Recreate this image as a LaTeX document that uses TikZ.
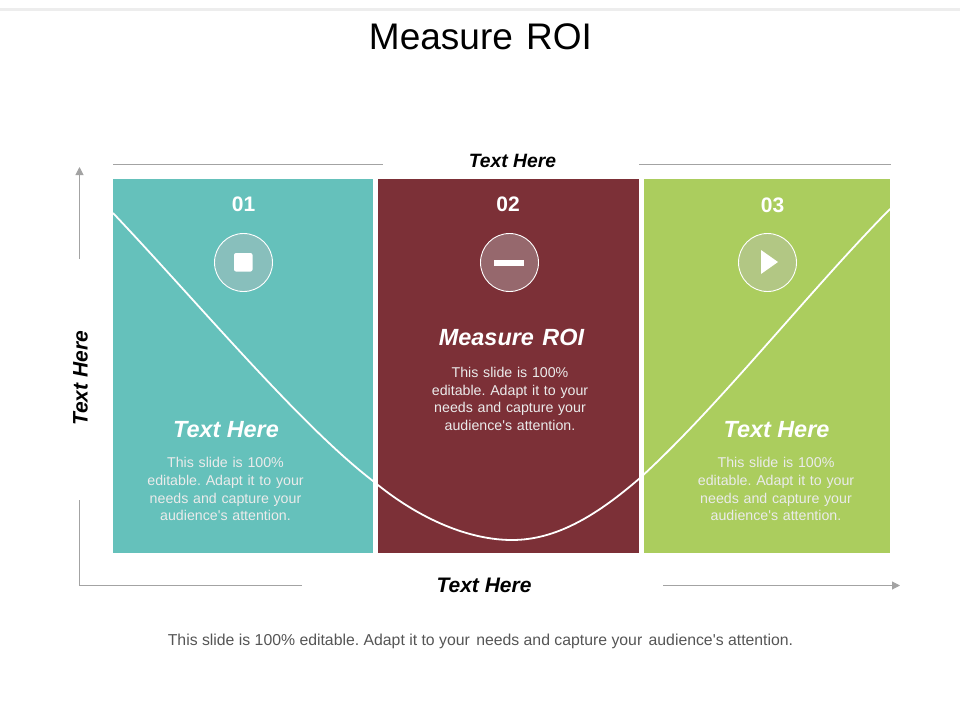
\documentclass[tikz,border=0pt]{standalone}
\usepackage{fontspec}
\setmainfont{Liberation Sans}
\usetikzlibrary{arrows.meta}
\definecolor{teal1}{HTML}{65C1BB}
\definecolor{wine}{HTML}{7C3037}
\definecolor{lime}{HTML}{ABCD5E}
\definecolor{axisgray}{HTML}{A3A3A3}
\definecolor{txtgray}{HTML}{555555}
\definecolor{ringfill}{RGB}{190,190,190}
\tikzset{
 panel/.style={draw=none,minimum height=374pt,inner sep=0pt,outer sep=0pt,anchor=north west},
 num/.style={text=white,font=\fontsize{21}{23}\selectfont\bfseries},
 ringfillst/.style={circle,fill=ringfill,fill opacity=0.4,minimum size=58pt,inner sep=0pt},
 ring/.style={circle,draw=white,line width=0.9pt,minimum size=58pt,inner sep=0pt},
 head/.style={text=white,font=\fontsize{23.4}{26}\selectfont\bfseries\itshape},
 body/.style={text=white!92!black,font=\fontsize{14.2}{17.6}\selectfont,align=center,text width=175pt,inner sep=0pt},
 lab/.style={text=black,font=\fontsize{19.3}{22}\selectfont\bfseries\itshape,inner sep=0pt},
 labbig/.style={text=black,font=\fontsize{21}{24}\selectfont\bfseries\itshape,inner sep=0pt},
 axis/.style={draw=axisgray,line width=1pt},
 axisarrow/.style={axis,-{Triangle[length=8pt,width=8pt]}},
 curveline/.style={draw=white,line width=1.8pt}
}
\begin{document}
\frenchspacing
\begin{tikzpicture}[x=1pt,y=-1pt]
\useasboundingbox (0,0) rectangle (960,720);
\fill[black!7] (0,8) rectangle (960,11);
\node[font=\fontsize{37}{42}\selectfont,text=black,inner sep=0pt] (title) at (480.5,37) {Measure\hspace{3pt} ROI};

\node[panel,fill=teal1,minimum width=260pt] (p1) at (113,179) {};
\node[panel,fill=wine,minimum width=261pt] (p2) at (378,179) {};
\node[panel,fill=lime,minimum width=246pt] (p3) at (644,179) {};

\coordinate (c0) at (113,213);
\coordinate (c1) at (373,481);
\coordinate (c2) at (512,540);
\coordinate (c3) at (640,478);
\coordinate (c4) at (890,209);
\draw[curveline] (c0) .. controls (200,305) and (300,425) .. (c1)
  .. controls (420,520) and (470,540) .. (c2)
  .. controls (555,540) and (595,517) .. (c3)
  .. controls (720,405) and (810,290) .. (c4);

\node[num] (n1) at (243.5,204) {01};
\node[num] (n2) at (508,204) {02};
\node[num] (n3) at (772.5,205) {03};

\node[ringfillst] at (243.5,262.5) {};
\node[ringfillst] at (509.5,262.5) {};
\node[ringfillst] at (767.5,262.5) {};
\node[ring] (r1) at (243.5,262.5) {};
\node[ring] (r2) at (509.5,262.5) {};
\node[ring] (r3) at (767.5,262.5) {};
\fill[white,rounded corners=2pt] (234,253) rectangle (252.5,271.5);
\fill[white] (494,259.5) rectangle (523.5,265.5);
\fill[white] (761,250) -- (778,262) -- (761,274) -- cycle;

\node[head] (h1) at (226,430) {Text Here};
\node[head] (h2) at (511.5,337) {Measure\hspace{2pt} ROI};
\node[head] (h3) at (776.5,430) {Text Here};

\node[body,anchor=north] (b1) at (225.5,457.5) {This slide is 100\%\\editable. Adapt it to your\\needs and capture your\\audience\textquotesingle s attention.};
\node[body,anchor=north] (b2) at (510,367) {This slide is 100\%\\editable. Adapt it to your\\needs and capture your\\audience\textquotesingle s attention.};
\node[body,anchor=north] (b3) at (776,457.5) {This slide is 100\%\\editable. Adapt it to your\\needs and capture your\\audience\textquotesingle s attention.};

\node[lab] (top) at (512.5,161) {Text Here};
\node[labbig] (bot) at (484,585) {Text Here};
\node[labbig,rotate=90] (left) at (80.5,378.5) {Text Here};

\coordinate (tl1) at (113,164.5);
\coordinate (tl2) at (383,164.5);
\coordinate (tr1) at (639,164.5);
\coordinate (tr2) at (891,164.5);
\draw[axis] (tl1) -- (tl2);
\draw[axis] (tr1) -- (tr2);

\coordinate (au) at (79.5,167);
\coordinate (al) at (79.5,259);
\coordinate (as) at (79.5,500);
\coordinate (ac) at (79.5,585.5);
\coordinate (ae) at (302,585.5);
\coordinate (bs) at (663,585.5);
\coordinate (be) at (900,585.5);
\draw[axisarrow] (al) -- (au);
\draw[axis] (as) -- (ac) -- (ae);
\draw[axisarrow] (bs) -- (be);

\node[font=\fontsize{15.8}{19}\selectfont,text=txtgray,inner sep=0pt] (foot) at (480.5,641) {This slide is 100\% editable. Adapt it to your\hspace{2pt} needs and capture your\hspace{2pt} audience\textquotesingle s attention.};
\end{tikzpicture}
\end{document}
